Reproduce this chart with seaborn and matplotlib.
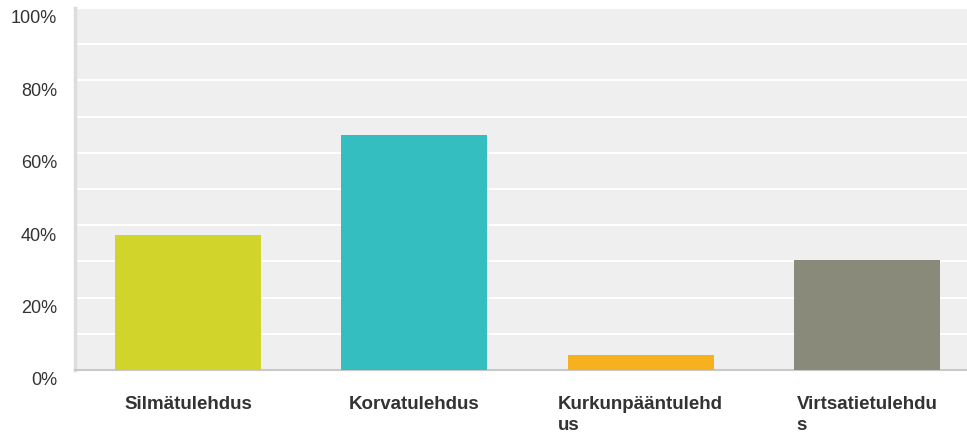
import pandas as pd
import matplotlib.pyplot as plt
import matplotlib.transforms as mtransforms
from matplotlib.ticker import MultipleLocator, FuncFormatter
import seaborn as sns

# Data
categories = ["Silmätulehdus", "Korvatulehdus", "Kurkunpääntulehdus", "Virtsatietulehdus"]
labels = ["Silmätulehdus", "Korvatulehdus", "Kurkunpääntulehd\nus", "Virtsatietulehdu\ns"]
values = [37.3, 64.9, 4.1, 30.4]
colors = ["#d1d52b", "#34bebf", "#f7b01e", "#898a79"]

df = pd.DataFrame({"category": categories, "value": values})

sns.set_style("white")
plt.rcParams["font.family"] = ["Liberation Sans", "DejaVu Sans"]

fig = plt.figure(figsize=(9.67, 4.41), dpi=100)
ax = fig.add_axes([0.0776, 0.161, 0.9358, 0.821])

sns.barplot(data=df, x="category", y="value", hue="category", palette=colors,
            width=0.645, saturation=1, legend=False, ax=ax, zorder=3,
            edgecolor="none", linewidth=0)

ax.set_facecolor("#efefef")
ax.set_xlim(-0.5, 3.5)
ax.set_ylim(0, 100)

# gridlines every 10%, labels every 20%
ax.yaxis.set_major_locator(MultipleLocator(20))
ax.yaxis.set_minor_locator(MultipleLocator(10))
ax.yaxis.set_major_formatter(FuncFormatter(lambda v, p: f"{int(v)}%"))
ax.grid(axis="y", which="both", color="white", linewidth=1.5, zorder=1)
ax.set_axisbelow(True)

ax.tick_params(axis="y", which="both", length=0, pad=13, labelsize=13, labelcolor="#333333")
ax.tick_params(axis="x", length=0, pad=19)
ax.set_xticks(range(len(labels)))
ax.set_xticklabels(labels, fontsize=13.5, fontweight="bold", color="#333333",
                   multialignment="left", va="top", linespacing=1.3)

# shift y labels slightly below their gridlines
offset = mtransforms.ScaledTranslation(0, -9 / 100, fig.dpi_scale_trans)
for lbl in ax.get_yticklabels():
    lbl.set_transform(lbl.get_transform() + offset)

for side in ["top", "right"]:
    ax.spines[side].set_visible(False)
ax.spines["left"].set_color("#dddddd")
ax.spines["left"].set_linewidth(2.5)
ax.spines["bottom"].set_color("#c8c8c8")
ax.spines["bottom"].set_linewidth(1.5)

ax.set_xlabel("")
ax.set_ylabel("")

fig.savefig("out.png", dpi=100)
